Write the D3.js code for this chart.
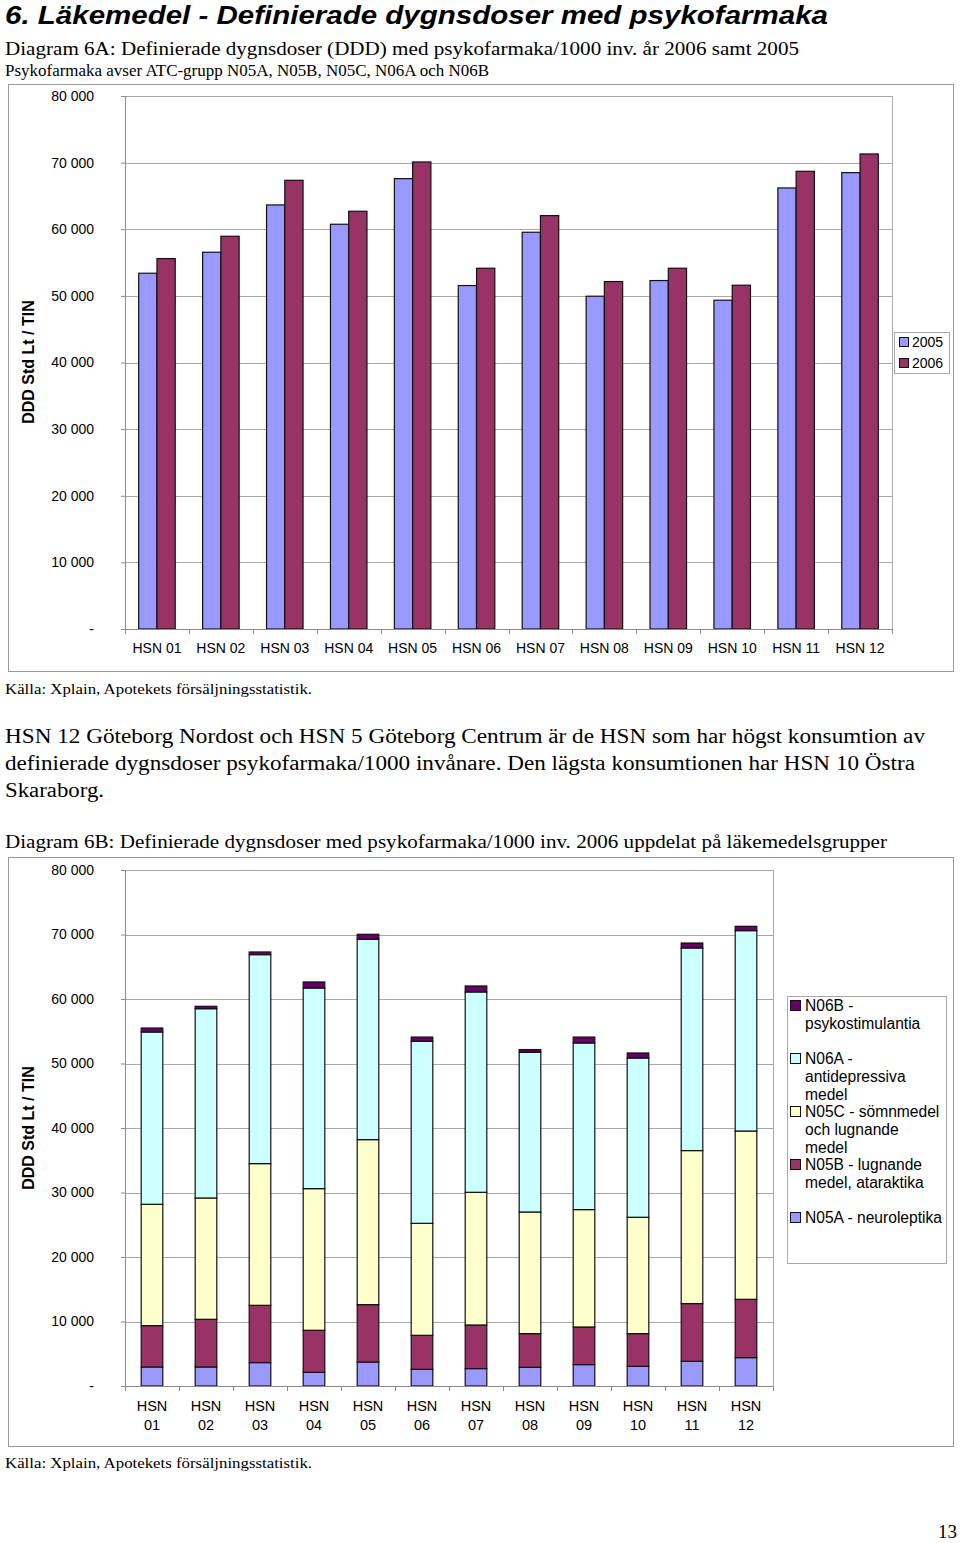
<!DOCTYPE html>
<html><head><meta charset="utf-8">
<script src="https://cdn.jsdelivr.net/npm/d3@7"></script>
<style>
body{margin:0;background:#fff;}
svg{display:block;}
</style></head>
<body>
<svg id="c" width="960" height="1543"></svg>
<script>
// ---- data ----
const categories = ["HSN 01","HSN 02","HSN 03","HSN 04","HSN 05","HSN 06","HSN 07","HSN 08","HSN 09","HSN 10","HSN 11","HSN 12"];
const years = ["2005","2006"];
const ddd2005 = [53400,56550,63650,60750,67600,51550,59550,49950,52300,49350,66200,68500];
const ddd2006 = [55600,58950,67350,62700,70100,54150,62050,52150,54150,51600,68700,71300];
const yTicks = [0,10000,20000,30000,40000,50000,60000,70000,80000];

const groups = ["N05A - neuroleptika","N05B - lugnande medel, ataraktika","N05C - sömnmedel och lugnande medel","N06A - antidepressiva medel","N06B - psykostimulantia"];
const n05a = [2950,2950,3630,2120,3720,2590,2700,2900,3320,3050,3830,4400];
const n05b = [6410,7390,8880,6520,8900,5270,6760,5220,5830,5070,8950,9040];
const n05c = [18810,18810,21970,21960,25580,17360,20570,18860,18200,18040,23720,26090];
const n06a = [26710,29350,32400,31100,31060,28220,31060,24760,25830,24690,31410,31070];
const n06b = [620,370,410,940,770,660,930,420,920,780,770,670];

const colYears = ["#9999FF","#993366"];
const colGroups = ["#9999FF","#993366","#FFFFCC","#CCFFFF","#660066"];
const legendLines = [
  ["N06B -","psykostimulantia"],
  ["N06A -","antidepressiva","medel"],
  ["N05C - sömnmedel","och lugnande","medel"],
  ["N05B - lugnande","medel, ataraktika"],
  ["N05A - neuroleptika"]
];

const svg = d3.select("#c");
const SANS = "'Liberation Sans', Arial, sans-serif";
const SERIF = "'Liberation Serif', 'Times New Roman', serif";
const fmt = v => v === 0 ? "-" : d3.format(",")(v).replace(/,/g," ");

// ---- page texts ----
function txt(x,y,s,size,family,opts={}){
  const t = svg.append("text").attr("x",x).attr("y",y).text(s)
    .attr("font-size",size).attr("font-family",family).attr("fill","#000");
  if(opts.weight) t.attr("font-weight",opts.weight);
  if(opts.style) t.attr("font-style",opts.style);
  if(opts.len) t.attr("textLength",opts.len).attr("lengthAdjust","spacingAndGlyphs");
  if(opts.anchor) t.attr("text-anchor",opts.anchor);
  return t;
}
txt(5,24,"6. Läkemedel - Definierade dygnsdoser med psykofarmaka",26,SANS,{weight:"bold",style:"italic",len:823});
txt(5,55,"Diagram 6A: Definierade dygnsdoser (DDD) med psykofarmaka/1000 inv. år 2006 samt 2005",19,SERIF,{len:794});
txt(5,76,"Psykofarmaka avser ATC-grupp N05A, N05B, N05C, N06A och N06B",16,SERIF,{len:484});
txt(5,694,"Källa: Xplain, Apotekets försäljningsstatistik.",15,SERIF,{len:307});
txt(5,743,"HSN 12 Göteborg Nordost och HSN 5 Göteborg Centrum är de HSN som har högst konsumtion av",20,SERIF,{len:920});
txt(5,770,"definierade dygnsdoser psykofarmaka/1000 invånare. Den lägsta konsumtionen har HSN 10 Östra",20,SERIF,{len:910});
txt(5,797,"Skaraborg.",20,SERIF,{len:99});
txt(5,848,"Diagram 6B: Definierade dygnsdoser med psykofarmaka/1000 inv. 2006 uppdelat på läkemedelsgrupper",19,SERIF,{len:882});
txt(5,1468,"Källa: Xplain, Apotekets försäljningsstatistik.",15,SERIF,{len:307});
txt(957,1538,"13",19,SERIF,{anchor:"end"});

// ---- chart frames ----
svg.append("rect").attr("x",8.5).attr("y",84.5).attr("width",945).attr("height",587).attr("fill","none").attr("stroke","#9a9a9a");
svg.append("rect").attr("x",8.5).attr("y",857.5).attr("width",945).attr("height",589).attr("fill","none").attr("stroke","#9a9a9a");

function yAxisBlock(g, y, left, right, top, bottom){
  g.selectAll("line.grid").data(yTicks.filter(d=>d>0)).join("line")
    .attr("x1",left).attr("x2",right).attr("y1",d=>Math.round(y(d))+0.5).attr("y2",d=>Math.round(y(d))+0.5)
    .attr("stroke","#a8a8a8").attr("stroke-width",1);
  g.append("line").attr("x1",right+0.5).attr("x2",right+0.5).attr("y1",top).attr("y2",bottom).attr("stroke","#a8a8a8");
  const ax = g.append("g").attr("transform",`translate(${left},0)`)
    .call(d3.axisLeft(y).tickValues(yTicks).tickFormat(fmt).tickSize(4).tickPadding(27));
  ax.select(".domain").attr("stroke","#8a8a8a");
  ax.selectAll(".tick line").attr("stroke","#8a8a8a");
  ax.selectAll("text").attr("font-family",SANS).attr("font-size",14).attr("fill","#000");
}
function yTitle(cy){
  svg.append("text").attr("transform",`translate(34,${cy}) rotate(-90)`)
    .attr("text-anchor","middle").attr("font-family",SANS).attr("font-size",16).attr("font-weight","bold")
    .text("DDD Std Lt / TIN");
}
function xBoundaryTicks(g, x, baseY){
  const step = x.step();
  const start = x.range()[0];
  const bounds = d3.range(categories.length+1).map(i => start + i*step);
  g.selectAll("line.xt").data(bounds).join("line")
    .attr("x1",d=>Math.round(d)+0.5).attr("x2",d=>Math.round(d)+0.5)
    .attr("y1",baseY).attr("y2",baseY+5).attr("stroke","#8a8a8a");
  g.append("line").attr("x1",start).attr("x2",x.range()[1]).attr("y1",baseY+0.5).attr("y2",baseY+0.5).attr("stroke","#8a8a8a");
}

// ---- Chart 6A ----
{
  const left=125, right=892, top=96, bottom=629;
  const g = svg.append("g");
  const y = d3.scaleLinear().domain([0,80000]).range([bottom,top]);
  const x0 = d3.scaleBand().domain(categories).range([left,right]);
  const x1 = d3.scaleBand().domain(years).range([0,x0.bandwidth()]).paddingOuter(0.75);
  yAxisBlock(g,y,left,right,top,bottom);
  const data = categories.map((c,i)=>({c, v:[ddd2005[i],ddd2006[i]]}));
  const cg = g.selectAll("g.cat").data(data).join("g").attr("transform",d=>`translate(${x0(d.c)},0)`);
  cg.selectAll("rect").data(d=>d.v.map((v,j)=>({y:years[j],v,j}))).join("rect")
    .attr("x",d=>x1(d.y)).attr("width",x1.bandwidth())
    .attr("y",d=>y(d.v)).attr("height",d=>bottom-y(d.v))
    .attr("fill",d=>colYears[d.j]).attr("stroke","#111").attr("stroke-width",1.2);
  xBoundaryTicks(g,x0,bottom);
  const xa = g.append("g").attr("transform",`translate(0,${bottom})`).call(d3.axisBottom(x0).tickSize(0).tickPadding(14));
  xa.select(".domain").remove();
  xa.selectAll("text").attr("font-family",SANS).attr("font-size",14).attr("fill","#000");
  yTitle(362);
  const lg = svg.append("g");
  lg.append("rect").attr("x",894.5).attr("y",332.5).attr("width",55).attr("height",41).attr("fill","#fff").attr("stroke","#a8a8a8");
  years.forEach((yr,j)=>{
    lg.append("rect").attr("x",899.5).attr("y",337.5+j*21).attr("width",9).attr("height",9).attr("fill",colYears[j]).attr("stroke","#111");
    lg.append("text").attr("x",912).attr("y",347+j*21).attr("font-family",SANS).attr("font-size",14).text(yr);
  });
}

// ---- Chart 6B ----
{
  const left=125, right=773, top=870, bottom=1386;
  const g = svg.append("g");
  const y = d3.scaleLinear().domain([0,80000]).range([bottom,top]);
  const x = d3.scaleBand().domain(categories).range([left,right]).paddingInner(0.6).paddingOuter(0.3);
  yAxisBlock(g,y,left,right,top,bottom);
  const rows = categories.map((c,i)=>({c, k0:n05a[i], k1:n05b[i], k2:n05c[i], k3:n06a[i], k4:n06b[i]}));
  const stack = d3.stack().keys(["k0","k1","k2","k3","k4"])(rows);
  g.selectAll("g.layer").data(stack).join("g").attr("fill",(d,i)=>colGroups[i])
    .selectAll("rect").data(d=>d).join("rect")
    .attr("x",d=>x(d.data.c)).attr("width",x.bandwidth())
    .attr("y",d=>y(d[1])).attr("height",d=>y(d[0])-y(d[1]))
    .attr("stroke","#111").attr("stroke-width",1.2);
  const step = x.step();
  const bounds = d3.range(categories.length+1).map(i => left + i*step);
  g.selectAll("line.xt").data(bounds).join("line")
    .attr("x1",d=>Math.round(d)+0.5).attr("x2",d=>Math.round(d)+0.5)
    .attr("y1",bottom).attr("y2",bottom+5).attr("stroke","#8a8a8a");
  g.append("line").attr("x1",left).attr("x2",right).attr("y1",bottom+0.5).attr("y2",bottom+0.5).attr("stroke","#8a8a8a");
  const xa = g.append("g").attr("transform",`translate(0,${bottom})`).call(d3.axisBottom(x).tickSize(0).tickFormat(()=>""));
  xa.select(".domain").remove();
  xa.selectAll(".tick").each(function(d){
    const parts = d.split(" ");
    const t = d3.select(this).append("text").attr("font-family",SANS).attr("font-size",14.5).attr("fill","#000").attr("text-anchor","middle");
    t.append("tspan").attr("x",0).attr("y",25).text(parts[0]);
    t.append("tspan").attr("x",0).attr("y",44).text(parts[1]);
  });
  yTitle(1128);
  const lg = svg.append("g");
  lg.append("rect").attr("x",787.5).attr("y",996.5).attr("width",159).attr("height",267).attr("fill","#fff").attr("stroke","#a8a8a8");
  const firstLineY = [1011,1064,1117,1170,1223];
  const legendColIdx = [4,3,2,1,0];
  legendLines.forEach((lines,i)=>{
    lg.append("rect").attr("x",790.5).attr("y",firstLineY[i]-10.5).attr("width",10).attr("height",10)
      .attr("fill",colGroups[legendColIdx[i]]).attr("stroke","#111");
    const t = lg.append("text").attr("font-family",SANS).attr("font-size",15.6).attr("fill","#000");
    lines.forEach((s,k)=>t.append("tspan").attr("x",805).attr("y",firstLineY[i]+k*18).text(s));
  });
}
</script>
</body></html>
